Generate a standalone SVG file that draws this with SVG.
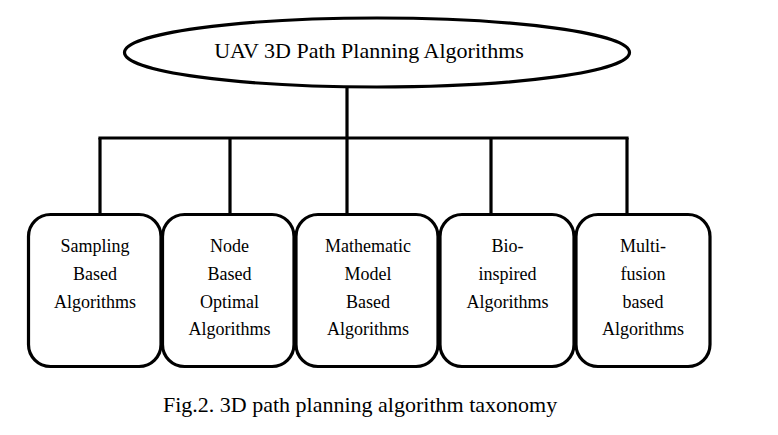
<svg xmlns="http://www.w3.org/2000/svg" width="778" height="435" viewBox="0 0 778 435">
  <style>
    .shape { fill: #fff; stroke: #000; stroke-width: 3.2; }
    .wire { fill: none; stroke: #000; stroke-width: 3.2; stroke-linecap: butt; }
    .lbl { font-family: "Liberation Serif", "Times New Roman", serif; font-size: 18px; fill: #000; text-anchor: middle; }
    .title { font-family: "Liberation Serif", "Times New Roman", serif; font-size: 22px; fill: #000; text-anchor: middle; }
    .cap { font-family: "Liberation Serif", "Times New Roman", serif; font-size: 22px; fill: #000; }
  </style>
  <rect width="778" height="435" fill="#fff"/>

  <!-- tree connectors -->
  <g id="connectors">
    <line class="wire" x1="347" y1="87" x2="347" y2="138"/>
    <line class="wire" x1="98.4" y1="138" x2="628.6" y2="138"/>
    <line class="wire" x1="100" y1="138" x2="100" y2="214"/>
    <line class="wire" x1="230" y1="138" x2="230" y2="214"/>
    <line class="wire" x1="347" y1="138" x2="347" y2="214"/>
    <line class="wire" x1="491" y1="138" x2="491" y2="214"/>
    <line class="wire" x1="627" y1="138" x2="627" y2="214"/>
  </g>

  <!-- root -->
  <g id="root">
    <ellipse class="shape" cx="377" cy="52.5" rx="252.5" ry="34.5"/>
    <text class="title" x="369" y="58">UAV 3D Path Planning Algorithms</text>
  </g>

  <!-- categories -->
  <g id="sampling">
    <rect class="shape" x="28.5" y="214.5" width="132.5" height="152" rx="22"/>
    <text class="lbl" x="95" y="252">Sampling</text>
    <text class="lbl" x="95" y="280">Based</text>
    <text class="lbl" x="95" y="307.5">Algorithms</text>
  </g>

  <g id="node-based">
    <rect class="shape" x="162.5" y="214.5" width="131.5" height="152" rx="22"/>
    <text class="lbl" x="229.5" y="252">Node</text>
    <text class="lbl" x="229.5" y="280">Based</text>
    <text class="lbl" x="229.5" y="307.5">Optimal</text>
    <text class="lbl" x="229.5" y="335">Algorithms</text>
  </g>

  <g id="math-model">
    <rect class="shape" x="296" y="214.5" width="142" height="152" rx="22"/>
    <text class="lbl" x="368" y="252">Mathematic</text>
    <text class="lbl" x="368" y="280">Model</text>
    <text class="lbl" x="368" y="307.5">Based</text>
    <text class="lbl" x="368" y="335">Algorithms</text>
  </g>

  <g id="bio-inspired">
    <rect class="shape" x="440" y="214.5" width="134" height="152" rx="22"/>
    <text class="lbl" x="507.5" y="252">Bio-</text>
    <text class="lbl" x="507.5" y="280">inspired</text>
    <text class="lbl" x="507.5" y="307.5">Algorithms</text>
  </g>

  <g id="multi-fusion">
    <rect class="shape" x="576" y="214.5" width="134" height="152" rx="22"/>
    <text class="lbl" x="643" y="252">Multi-</text>
    <text class="lbl" x="643" y="280">fusion</text>
    <text class="lbl" x="643" y="307.5">based</text>
    <text class="lbl" x="643" y="335">Algorithms</text>
  </g>

  <!-- caption -->
  <text class="cap" x="163" y="412">Fig.2. 3D path planning algorithm taxonomy</text>
</svg>
